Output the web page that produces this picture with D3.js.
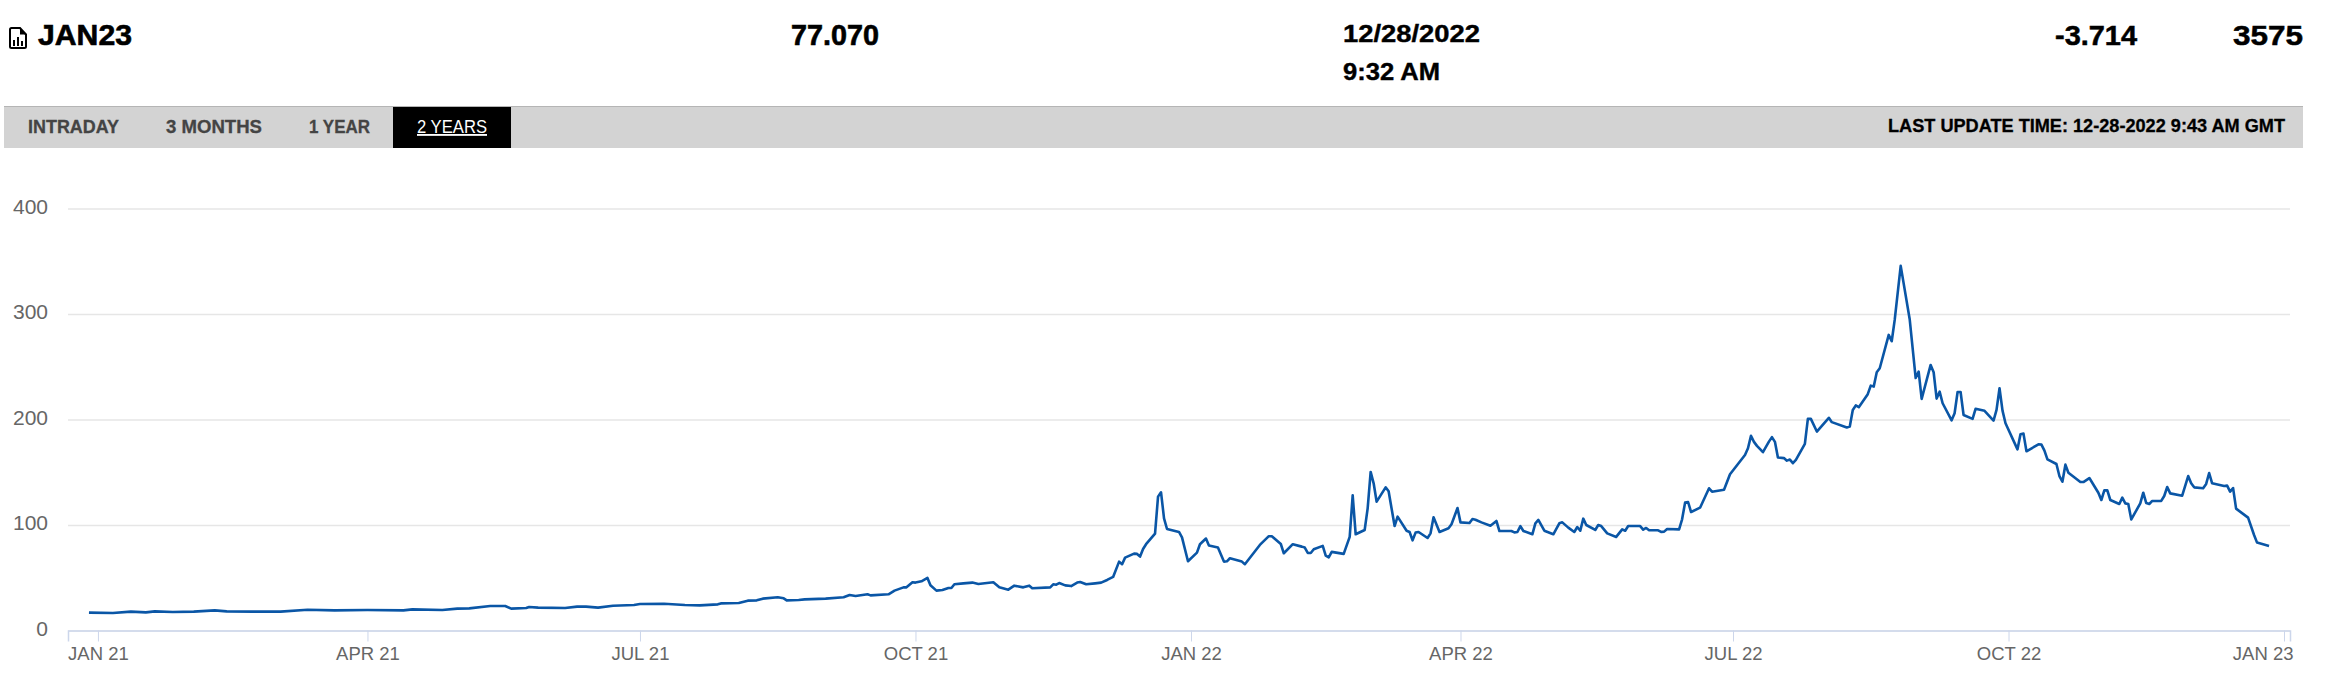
<!DOCTYPE html>
<html>
<head>
<meta charset="utf-8">
<script src="https://cdn.jsdelivr.net/npm/d3@7"></script>
<style>
  html, body { margin: 0; padding: 0; background: #fff; }
  svg { display: block; font-family: "Liberation Sans", Arial, sans-serif; }
</style>
</head>
<body>
<div id="vis"></div>
<script>
// days counted from 1 Jan 2021
const dayOffsets = [
  -3, 5, 11, 16, 19, 25, 32, 39, 43, 52, 61, 70, 79, 90, 102, 105, 115, 120, 124, 131,
  136, 138, 143, 144, 147, 156, 160, 163, 167, 172, 179, 181, 189, 196, 201, 207, 208, 214, 217, 220,
  222, 227, 229, 230, 234, 236, 243, 249, 251, 253, 257, 258, 264, 266, 269, 270, 272, 273, 275, 277,
  278, 280, 282, 284, 285, 286, 289, 292, 294, 299, 301, 304, 306, 309, 311, 312, 318, 319, 320, 321,
  323, 325, 327, 328, 330, 333, 335, 337, 339, 341, 342, 343, 346, 347, 348, 349, 350, 353, 354, 355,
  356, 357, 361, 362, 364, 367, 368, 370, 371, 374, 376, 377, 378, 382, 383, 388, 391, 392, 395, 396,
  399, 402, 403, 404, 405, 406, 409, 410, 411, 412, 416, 418, 419, 420, 423, 424, 425, 426, 427, 430,
  431, 433, 434, 437, 438, 439, 440, 441, 444, 445, 446, 448, 451, 452, 454, 455, 458, 459, 460, 462,
  465, 467, 468, 472, 473, 474, 475, 476, 479, 480, 481, 483, 486, 488, 489, 491, 493, 494, 495, 496,
  497, 500, 501, 502, 504, 507, 509, 510, 511, 515, 516, 517, 518, 521, 522, 523, 524, 528, 529, 530,
  531, 532, 535, 538, 539, 543, 545, 550, 551, 552, 553, 554, 556, 558, 559, 560, 561, 563, 564, 565,
  566, 567, 570, 571, 572, 574, 578, 579, 584, 585, 586, 587, 588, 591, 592, 593, 594, 595, 598, 599,
  600, 602, 605, 607, 608, 609, 612, 613, 614, 615, 616, 619, 620, 621, 622, 623, 626, 627, 630, 633,
  634, 635, 636, 637, 641, 642, 643, 644, 648, 649, 650, 651, 654, 655, 656, 657, 658, 662, 663, 665,
  668, 669, 670, 671, 672, 675, 676, 677, 678, 679, 682, 683, 684, 685, 686, 689, 690, 691, 692, 696,
  698, 699, 700, 703, 704, 705, 706, 710, 711, 712, 713, 714, 718, 720, 721, 725
];
const prices = [
  16.9, 16.6, 17.9, 17.2, 18.1, 17.5, 17.9, 19.1, 18.1, 17.9, 17.9, 19.7, 19.1, 19.4, 19.1, 20, 19.4, 20.7, 21, 23.2,
  23.2, 20.7, 21.3, 22.3, 21.7, 21.3, 22.6, 22.6, 21.7, 23.5, 24.2, 25.1, 25.4, 24.2, 23.8, 24.8, 25.7, 26.1, 28.3, 28.6,
  30.2, 31.5, 30.5, 28.6, 28.9, 29.5, 30.2, 31.5, 33.6, 32.7, 34.3, 33.3, 34.3, 37.8, 40.9, 40.9, 45.7, 45.4, 46.6, 49.8,
  42.8, 37.8, 38.4, 40.3, 40.3, 43.8, 44.7, 45.4, 44.1, 45.7, 40.9, 38.7, 42.5, 40.9, 42.5, 40, 40.9, 43.8, 43.4, 45,
  42.8, 42.1, 45.4, 46, 43.8, 44.7, 45.4, 47.9, 50.8, 65.3, 62.8, 69.1, 72.9, 72.6, 70.1, 77.3, 81.8, 91.9, 126.9, 131,
  106.3, 96.2, 93.4, 88.3, 65.6, 73.8, 81.8, 87.2, 80.5, 78.6, 65.3, 65.6, 68.5, 65.3, 62.8, 81.1, 89.4, 89.4, 82, 73.2,
  81.8, 79.5, 78.6, 73.5, 73.5, 77, 80.2, 71, 69.4, 74.5, 72.6, 88.7, 128.1, 91.2, 95.3, 115.8, 150.3, 139.5, 122.1, 135.7,
  131.9, 99, 107.9, 94.6, 93.4, 85.5, 92.8, 93.4, 87.7, 92.1, 107.3, 93.4, 96.9, 100.7, 116.1, 102.5, 101.9, 105.7, 105, 102.5,
  99.3, 103.8, 94.3, 94.3, 93, 93.4, 99, 94.3, 91.2, 101.6, 104.8, 94.6, 91.2, 101.6, 102.5, 97.5, 93.4, 98.1, 94.6, 106,
  100, 95.3, 100, 99, 92.1, 88.7, 95.9, 94.6, 99, 99, 95.6, 97.2, 95, 95, 93.4, 93.7, 96.2, 95.9, 105.4, 121.2,
  121.8, 112.3, 116.4, 134.8, 131.6, 133.5, 148.1, 166.4, 172.8, 184.5, 178.8, 175, 169, 179, 183.3, 178.8, 164, 163.4, 161, 162,
  158.6, 161.7, 176.9, 200.6, 200.6, 188.6, 201.6, 197.5, 192.4, 193.3, 209.1, 213.3, 211.7, 224, 232.1, 231.2, 244.8, 248.6, 280.2, 274.2,
  294.4, 345.6, 295.1, 239.3, 245.4, 219.5, 251.7, 244.8, 219.8, 226.4, 215.4, 199.2, 205.9, 226.1, 226.1, 204.3, 200.6, 210.1, 208.2, 199,
  209.1, 229.6, 208.4, 196.4, 171.7, 186, 186.6, 169.9, 176.5, 176.2, 170.5, 162.2, 157.8, 146.4, 141, 157.2, 149.6, 140.7, 140.7, 144.5,
  130.6, 123.7, 132.8, 132.8, 123.7, 119.9, 125.9, 120.5, 119.9, 105.3, 120.5, 130.6, 120.8, 119.9, 122.8, 122.8, 127.5, 136, 130, 127.8,
  146.4, 139.5, 135.7, 134.8, 138.9, 149.3, 139.5, 137, 137.3, 131.6, 135, 115.5, 107, 90.5, 83.3, 80.2
];
const xTickDates = ["2021-01-01", "2021-04-01", "2021-07-01", "2021-10-01", "2022-01-01", "2022-04-01", "2022-07-01", "2022-10-01", "2023-01-01"];
const xTickLabels = ["JAN 21", "APR 21", "JUL 21", "OCT 21", "JAN 22", "APR 22", "JUL 22", "OCT 22", "JAN 23"];
const yTicks = [0, 100, 200, 300, 400];
const tabs = ["INTRADAY", "3 MONTHS", "1 YEAR", "2 YEARS"];

const W = 2328, H = 692;
const plotLeft = 68, plotRight = 2290, plotTop = 208.5, plotBottom = 630.5;

const svg = d3.select("#vis").append("svg").attr("width", W).attr("height", H);

const x = d3.scaleUtc()
  .domain([new Date(Date.UTC(2020, 11, 22)), new Date(Date.UTC(2023, 0, 3))])
  .range([plotLeft, plotRight]);
const y = d3.scaleLinear().domain([0, 400]).range([plotBottom, plotTop]);

// header row, widths set to match the original face
function label(txt, left, base, size, len, color, weight, heavy) {
  return svg.append("text")
    .attr("x", left).attr("y", base)
    .attr("font-size", size)
    .attr("font-weight", weight || "bold")
    .attr("fill", color || "#000")
    .attr("stroke", heavy ? (color || "#000") : null)
    .attr("stroke-width", heavy || null)
    .attr("textLength", len)
    .attr("lengthAdjust", "spacingAndGlyphs")
    .text(txt);
}
label("JAN23", 38, 45, 29, 94, null, null, 0.6);
label("77.070", 791, 45, 29, 88, null, null, 0.6);
label("12/28/2022", 1343, 41.5, 24, 137, null, null, 0.4);
label("9:32 AM", 1343, 80, 24, 97, null, null, 0.4);
label("-3.714", 2055, 45, 27, 82, null, null, 0.5);
label("3575", 2233, 45, 27, 70, null, null, 0.5);

// file icon
const icon = svg.append("g").attr("transform", "translate(9,27)");
icon.append("path")
  .attr("d", "M2.5 1 H11 L17 7.5 V19.5 Q17 21 15.5 21 H2.5 Q1 21 1 19.5 V2.5 Q1 1 2.5 1 Z")
  .attr("fill", "none").attr("stroke", "#000").attr("stroke-width", 2);
icon.append("path").attr("d", "M11 1 V7.5 H17 Z").attr("fill", "#000");
icon.selectAll("rect").data([[4, 13, 6], [8, 10, 9], [12, 14, 5]]).enter().append("rect")
  .attr("x", d => d[0]).attr("y", d => d[1]).attr("width", 2).attr("height", d => d[2]).attr("fill", "#000");

// tab bar
svg.append("rect").attr("x", 4).attr("y", 106).attr("width", 2299).attr("height", 42).attr("fill", "#d3d3d3");
svg.append("rect").attr("x", 4).attr("y", 106).attr("width", 2299).attr("height", 1).attr("fill", "#b5b5b5");
svg.append("rect").attr("x", 393).attr("y", 107).attr("width", 118).attr("height", 41).attr("fill", "#000");
const tabLeft = [28, 166, 309, 417], tabLen = [91, 96, 61, 70];
tabs.forEach((t, i) => {
  const active = i === tabs.length - 1;
  label(t, tabLeft[i], 133, 18.5, tabLen[i], active ? "#fff" : "#444", active ? "normal" : "bold", active ? 0 : 0.3)
    .attr("text-decoration", active ? "underline" : null);
});
label("LAST UPDATE TIME: 12-28-2022 9:43 AM GMT", 1888, 132, 18, 397, null, null, 0.3);

// y axis with gridlines
const yAxis = svg.append("g")
  .attr("transform", `translate(${plotLeft},0)`)
  .call(d3.axisLeft(y).tickValues(yTicks).tickSize(-(plotRight - plotLeft)).tickPadding(20));
yAxis.select(".domain").remove();
yAxis.selectAll("line").attr("stroke", "#e6e6e6").attr("stroke-width", 1.5);
yAxis.selectAll("text")
  .attr("fill", "#666").attr("font-size", 21).attr("font-family", "Liberation Sans").attr("dy", "0.22em");

// x axis
const xDates = xTickDates.map(d => new Date(d + "T00:00:00Z"));
const xAxis = svg.append("g")
  .attr("transform", `translate(0,${plotBottom})`)
  .call(d3.axisBottom(x)
    .tickValues(xDates)
    .tickSizeOuter(0)
    .tickSize(11)
    .tickPadding(5)
    .tickFormat((d, i) => xTickLabels[i]));
xAxis.select(".domain").attr("stroke", "#ccd6eb").attr("stroke-width", 1.5);
xAxis.selectAll("line").attr("stroke", "#ccd6eb");
xAxis.selectAll("text")
  .attr("fill", "#666").attr("font-size", 18.5).attr("font-family", "Liberation Sans");
// last label is pushed inside the plot edge
xAxis.selectAll(".tick").filter((d, i) => i === xDates.length - 1).select("text")
  .attr("text-anchor", "end").attr("dx", 9);

// price line
const points = dayOffsets.map((d, i) => [new Date(Date.UTC(2021, 0, 1 + d)), prices[i]]);
const line = d3.line().x(d => x(d[0])).y(d => y(d[1]));
svg.append("path")
  .datum(points)
  .attr("d", line)
  .attr("fill", "none")
  .attr("stroke", "#0a56a6")
  .attr("stroke-width", 2.6)
  .attr("stroke-linejoin", "round");
</script>
</body>
</html>
